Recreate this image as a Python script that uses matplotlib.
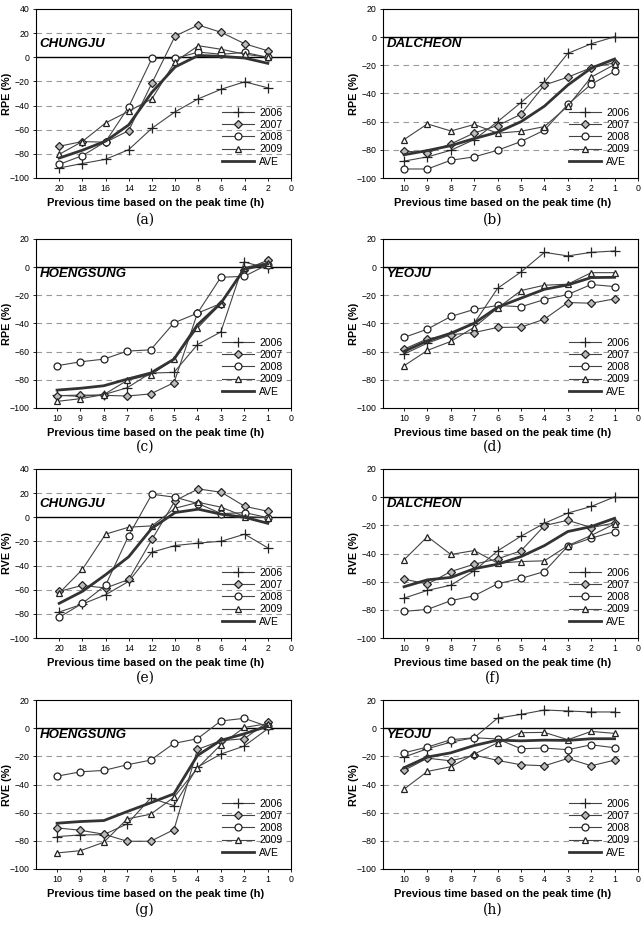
import matplotlib
matplotlib.use("Agg")
import matplotlib.pyplot as plt

plt.rcParams['font.family'] = ['Liberation Sans', 'DejaVu Sans']

# ---- data ----
x_a = [20, 18, 16, 14, 12, 10, 8, 6, 4, 2]
x_h = [10, 9, 8, 7, 6, 5, 4, 3, 2, 1]
years = ['2006', '2007', '2008', '2009', 'AVE']

# (a) CHUNGJU RPE
a_2006 = [-91.7, -88, -84.5, -76.5, -58.8, -45.2, -34.4, -26.4, -20.3, -25.3]
a_2007 = [-73.7, -69.8, -70.4, -60.7, -21.4, 17.6, 26.7, 20.6, 11.2, 5.4]
a_2008 = [-88.7, -81.5, -70, -41, -1, -1, 4.3, 2.5, 4, 0]
a_2009 = [-80.4, -69.8, -54.4, -44.7, -34.4, -3.7, 9.6, 6.6, 2.6, 0]
a_ave = [-83.5, -77, -69.5, -56, -29, -8, 1.5, 0.8, -0.6, -5]

# (b) DALCHEON RPE
b_2006 = [-88, -85, -80.3, -72.7, -60, -46.4, -32, -11.5, -4.7, 0.3]
b_2007 = [-80.8, -82.2, -75.8, -68, -62.8, -54.7, -34, -28.4, -21.7, -18.2]
b_2008 = [-93.6, -93.6, -87.4, -85, -80.3, -74.1, -66, -47.8, -33.4, -24.3]
b_2009 = [-72.7, -61.6, -66.6, -62, -68.2, -66.8, -63.5, -49, -28.4, -19.4]
b_ave = [-83.5, -80.5, -77, -72, -67.5, -60, -49, -34, -22, -15.5]

# (c) HOENGSUNG RPE
c_2006 = [-91, -91.7, -90.5, -85.6, -75.2, -74.7, -55, -46, 3.7, -0.8]
c_2007 = [-91.3, -90.8, -91, -91.5, -90, -82, -32.7, -25.8, -2, 4.9]
c_2008 = [-70, -67.2, -65.3, -59.6, -58.7, -39.5, -32.7, -7.2, -6.5, 1.8]
c_2009 = [-95.3, -93.4, -90.5, -80.4, -76.4, -65.5, -43.3, -26, -0.3, 3.2]
c_ave = [-87.3, -86, -84.2, -79.5, -75.2, -65.3, -41, -25.6, -1.4, 2.2]

# (d) YEOJU RPE
d_2006 = [-61.7, -53.9, -48, -39.8, -15, -3.4, 10.5, 8, 10.5, 11.5]
d_2007 = [-58.2, -50.9, -48, -46.4, -42.8, -42.6, -36.9, -25.1, -25.6, -22.5]
d_2008 = [-49.9, -44, -35, -30, -27.2, -28.1, -23, -19.4, -12.3, -13.8]
d_2009 = [-70, -59.1, -52.7, -42.6, -29.1, -16.6, -12.8, -12.1, -3.9, -3.9]
d_ave = [-59.8, -52.3, -46.9, -39.8, -28.4, -22, -15.7, -12.6, -7.4, -7.2]

# (e) CHUNGJU RVE
e_2006 = [-78.5, -71.9, -64.2, -53.1, -28.9, -23.4, -21.4, -19.8, -14, -25.3]
e_2007 = [-61.4, -56.4, -58.6, -51.5, -18.4, 13.8, 23.5, 20.7, 9.1, 5]
e_2008 = [-82.9, -71.3, -56.4, -15.1, 19.1, 16.6, 11.3, 3, 3.9, -0.3]
e_2009 = [-62.8, -43.2, -14, -8.2, -7.1, 7.5, 12.4, 8.3, 0.6, -0.3]
e_ave = [-71.3, -61.4, -47.6, -32.7, -9, 3.9, 6.7, 2.5, 0, -5]

# (f) DALCHEON RVE
f_2006 = [-71.7, -66.2, -62.5, -52.3, -38.1, -27.7, -18.5, -11.3, -6.6, 0.2]
f_2007 = [-58.2, -61.7, -52.8, -47.6, -43.8, -38.1, -20.2, -16.4, -21.6, -18.3]
f_2008 = [-81.1, -79.7, -73.5, -70, -61.5, -57.7, -52.8, -34.8, -29.1, -24.4]
f_2009 = [-44.5, -28, -40.7, -37.9, -46.9, -45.7, -45.2, -34.4, -27.2, -19]
f_ave = [-63.6, -58.7, -57, -50.8, -47.6, -42.2, -34.4, -24.4, -20.9, -15]

# (g) HOENGSUNG RVE
g_2006 = [-77, -75.8, -75.6, -68, -49.7, -55, -27.7, -18.4, -12.7, -0.5]
g_2007 = [-70.8, -72.5, -75.3, -80.3, -80.3, -72, -15.1, -8.9, -7.5, 4.3]
g_2008 = [-34.1, -31, -30, -26, -22.7, -10.8, -7.5, 5.1, 7, 1.2]
g_2009 = [-88.6, -87, -81, -64.4, -61.1, -49, -28.4, -11.8, 0.5, 3.2]
g_ave = [-67.5, -66.3, -65.6, -59.2, -53, -46.6, -19.4, -8.7, -4, 1.4]

# (h) YEOJU RVE
h_2006 = [-20.5, -14.6, -9.9, -6.8, 7.2, 9.8, 12.9, 12.2, 11.5, 11.5]
h_2007 = [-30, -21.3, -23.2, -19.1, -22.9, -26, -26.7, -21.5, -26.7, -22.7]
h_2008 = [-17.5, -13.4, -8.2, -6.8, -7.7, -14.6, -14.1, -15.3, -11.8, -13.9]
h_2009 = [-43.3, -30.7, -27.4, -18.4, -10.4, -3.2, -3, -8.2, -2.3, -3.7]
h_ave = [-28.1, -20.5, -17.5, -12.3, -8.5, -9, -8.5, -8.7, -7.5, -7.5]

panels = [
    ('CHUNGJU', 'RPE (%)', x_a, [a_2006, a_2007, a_2008, a_2009, a_ave], (-100, 40), '(a)'),
    ('DALCHEON', 'RPE (%)', x_h, [b_2006, b_2007, b_2008, b_2009, b_ave], (-100, 20), '(b)'),
    ('HOENGSUNG', 'RPE (%)', x_h, [c_2006, c_2007, c_2008, c_2009, c_ave], (-100, 20), '(c)'),
    ('YEOJU', 'RPE (%)', x_h, [d_2006, d_2007, d_2008, d_2009, d_ave], (-100, 20), '(d)'),
    ('CHUNGJU', 'RVE (%)', x_a, [e_2006, e_2007, e_2008, e_2009, e_ave], (-100, 40), '(e)'),
    ('DALCHEON', 'RVE (%)', x_h, [f_2006, f_2007, f_2008, f_2009, f_ave], (-100, 20), '(f)'),
    ('HOENGSUNG', 'RVE (%)', x_h, [g_2006, g_2007, g_2008, g_2009, g_ave], (-100, 20), '(g)'),
    ('YEOJU', 'RVE (%)', x_h, [h_2006, h_2007, h_2008, h_2009, h_ave], (-100, 20), '(h)'),
]

W, H = 641, 926
fig = plt.figure(figsize=(W / 100, H / 100), dpi=100)

col_left = [36, 383]
ax_w = 255
row_top = [9, 239, 469, 700]
ax_h = 169
cap_y = [220, 447, 678, 910]
cap_x = [145, 493]

styles = [
    dict(marker='+', markersize=7, markerfacecolor='none', markeredgecolor='#222222', markeredgewidth=0.9),
    dict(marker='D', markersize=3.6, markerfacecolor='#bbbbbb', markeredgecolor='#222222', markeredgewidth=0.9),
    dict(marker='o', markersize=5, markerfacecolor='white', markeredgecolor='#222222', markeredgewidth=0.9),
    dict(marker='^', markersize=5, markerfacecolor='white', markeredgecolor='#222222', markeredgewidth=0.9),
]

for i, (name, ylab, xs, series, ylim, cap) in enumerate(panels):
    r, c = divmod(i, 2)
    left = col_left[c] / W
    bottom = 1 - (row_top[r] + ax_h) / H
    ax = fig.add_axes([left, bottom, ax_w / W, ax_h / H])
    ymin, ymax = ylim
    for yv in range(ymin + 20, ymax, 20):
        if yv == 0:
            ax.axhline(0, color='black', lw=1.0, zorder=1)
        else:
            ax.axhline(yv, color='#999999', lw=0.8, ls=(0, (5, 4)), zorder=1)
    for k in range(4):
        ax.plot(xs, series[k], color='#444444', lw=0.8, label=years[k], zorder=3, **styles[k])
    ax.plot(xs, series[4], color='#333333', lw=2.0, label=years[4], zorder=4)
    if xs[0] == 20:
        ax.set_xlim(22, 0)
        ax.set_xticks(range(20, -1, -2))
    else:
        ax.set_xlim(10.9, 0)
        ax.set_xticks(range(10, -1, -1))
    ax.set_ylim(ymin, ymax)
    ax.set_yticks(range(ymin, ymax + 1, 20))
    ax.tick_params(labelsize=6.3, length=2.5, width=0.6, pad=2)
    for sp in ax.spines.values():
        sp.set_linewidth(0.8)
    ax.set_xlabel('Previous time based on the peak time (h)', fontsize=8, fontweight='bold')
    ax.set_ylabel(ylab, fontsize=7.8, fontweight='bold')
    ax.xaxis.set_label_coords(0.468, -0.12)
    ax.yaxis.set_label_coords(-0.094, 0.5)
    ax.text(0.015, 0.79, name, transform=ax.transAxes, fontsize=9.5, fontweight='bold',
            fontstyle='italic', va='center', ha='left')
    ax.legend(loc='lower right', bbox_to_anchor=(0.99, 0.03), frameon=False, fontsize=7.5,
              handlelength=3.0, labelspacing=0.22, handletextpad=0.5, borderaxespad=0.2)
    fig.text(cap_x[c] / W, 1 - cap_y[r] / H, cap, fontsize=10, family='DejaVu Serif',
             ha='center', va='center')

fig.savefig('out.png', dpi=100)
